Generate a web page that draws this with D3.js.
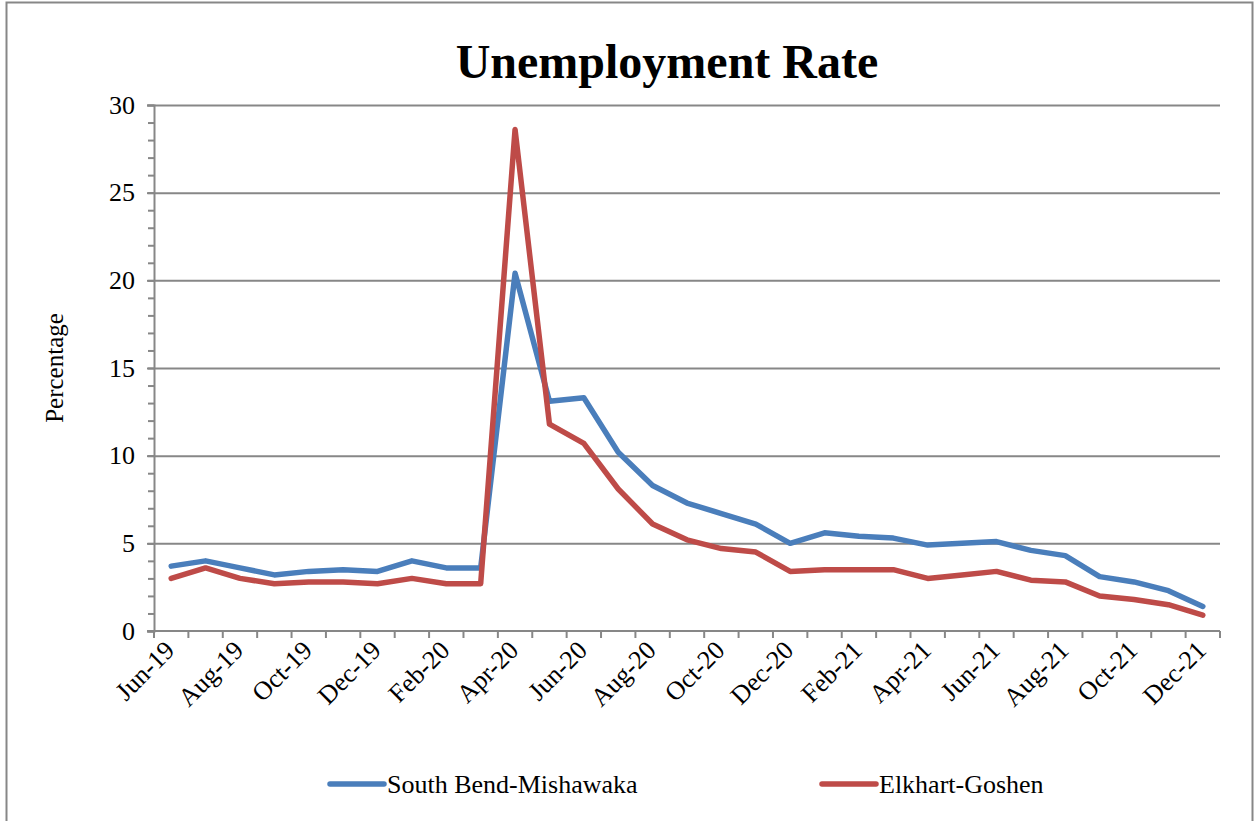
<!DOCTYPE html>
<html>
<head>
<meta charset="utf-8">
<script src="https://cdn.jsdelivr.net/npm/d3@7"></script>
<style>
  body { margin: 0; background: #fff; }
  text { font-family: "Liberation Serif", "Times New Roman", serif; fill: #000; }
</style>
</head>
<body>
<script>
var months = ["Jun-19","Jul-19","Aug-19","Sep-19","Oct-19","Nov-19","Dec-19","Jan-20","Feb-20","Mar-20",
              "Apr-20","May-20","Jun-20","Jul-20","Aug-20","Sep-20","Oct-20","Nov-20","Dec-20","Jan-21",
              "Feb-21","Mar-21","Apr-21","May-21","Jun-21","Jul-21","Aug-21","Sep-21","Oct-21","Nov-21","Dec-21"];

var southBend = [3.7, 4.0, 3.6, 3.2, 3.4, 3.5, 3.4, 4.0, 3.6, 3.6,
                 20.4, 13.1, 13.3, 10.2, 8.3, 7.3, 6.7, 6.1, 5.0, 5.6,
                 5.4, 5.3, 4.9, 5.0, 5.1, 4.6, 4.3, 3.1, 2.8, 2.3, 1.4];

var elkhart = [3.0, 3.6, 3.0, 2.7, 2.8, 2.8, 2.7, 3.0, 2.7, 2.7,
               28.6, 11.8, 10.7, 8.1, 6.1, 5.2, 4.7, 4.5, 3.4, 3.5,
               3.5, 3.5, 3.0, 3.2, 3.4, 2.9, 2.8, 2.0, 1.8, 1.5, 0.9];

var yTicks = [0, 5, 10, 15, 20, 25, 30];
var seriesNames = ["South Bend-Mishawaka", "Elkhart-Goshen"];
var seriesColors = ["#4a7ebb", "#be4b48"];

var width = 1254, height = 821;
var plot = {left: 154, right: 1220, top: 105, bottom: 631};
var gray = "#878787";

var svg = d3.select("body").append("svg")
    .attr("width", width)
    .attr("height", height);

// outer frame (bottom edge runs off the page)
svg.append("rect")
    .attr("x", 6.5).attr("y", 2.5)
    .attr("width", 1246).attr("height", 900)
    .attr("fill", "none")
    .attr("stroke", gray)
    .attr("stroke-width", 2);

var x = d3.scaleBand().domain(months).range([plot.left, plot.right]).padding(0);
var y = d3.scaleLinear().domain([0, 30]).range([plot.bottom, plot.top]);

// gridlines
svg.append("g")
    .attr("transform", "translate(" + plot.left + ",0)")
    .call(d3.axisLeft(y).tickValues(yTicks.slice(1)).tickSize(-(plot.right - plot.left)).tickFormat(""))
    .call(function(g){ g.select(".domain").remove(); })
    .selectAll("line").attr("stroke", gray).attr("stroke-width", 2);

// minor y ticks
svg.append("g")
    .attr("transform", "translate(" + plot.left + ",0)")
    .call(d3.axisLeft(y).tickValues(d3.range(0, 31)).tickSize(6).tickFormat(""))
    .call(function(g){ g.select(".domain").remove(); })
    .selectAll("line").attr("stroke", gray).attr("stroke-width", 2);

// y axis with labels
var yAxis = svg.append("g")
    .attr("transform", "translate(" + plot.left + ",0)")
    .call(d3.axisLeft(y).tickValues(yTicks).tickSize(7).tickPadding(12));
yAxis.select(".domain").attr("stroke", gray).attr("stroke-width", 2);
yAxis.selectAll("line").attr("stroke", gray).attr("stroke-width", 2);
yAxis.selectAll("text").style("font-size", "26px").style("font-family", "Liberation Serif");

// x axis: line plus ticks on category boundaries
var bounds = months.map(function(m){ return x(m); }).concat([plot.right]);
svg.append("line")
    .attr("x1", plot.left - 7).attr("x2", plot.right)
    .attr("y1", plot.bottom).attr("y2", plot.bottom)
    .attr("stroke", gray).attr("stroke-width", 2);
svg.append("g").selectAll("line")
    .data(bounds)
    .join("line")
    .attr("x1", function(d){ return d; }).attr("x2", function(d){ return d; })
    .attr("y1", plot.bottom).attr("y2", plot.bottom + 7)
    .attr("stroke", gray).attr("stroke-width", 2);

svg.append("g").selectAll("text")
    .data(months.filter(function(d, i){ return i % 2 === 0; }))
    .join("text")
    .attr("transform", function(d){
        return "translate(" + (x(d) + x.bandwidth()/2 - 8) + "," + (plot.bottom + 8) + ") rotate(-45)";
    })
    .attr("text-anchor", "end")
    .attr("dy", "0.7em")
    .style("font-size", "26px")
    .text(function(d){ return d; });

// lines
var line = d3.line()
    .x(function(d, i){ return x(months[i]) + x.bandwidth()/2; })
    .y(function(d){ return y(d); });

[southBend, elkhart].forEach(function(s, k){
    svg.append("path")
        .datum(s)
        .attr("d", line)
        .attr("fill", "none")
        .attr("stroke", seriesColors[k])
        .attr("stroke-width", 5.5)
        .attr("stroke-linejoin", "round")
        .attr("stroke-linecap", "round");
});

// title
svg.append("text")
    .attr("x", 667).attr("y", 78)
    .attr("text-anchor", "middle")
    .style("font-size", "48px")
    .style("font-weight", "bold")
    .text("Unemployment Rate");

// y label
svg.append("text")
    .attr("transform", "translate(63,368) rotate(-90)")
    .attr("text-anchor", "middle")
    .style("font-size", "25px")
    .text("Percentage");

// legend
var legendX = [330, 822];
seriesNames.forEach(function(name, k){
    var g = svg.append("g").attr("transform", "translate(" + legendX[k] + ",784)");
    g.append("line")
        .attr("x1", 0).attr("x2", 54)
        .attr("stroke", seriesColors[k])
        .attr("stroke-width", 5.5)
        .attr("stroke-linecap", "round");
    g.append("text")
        .attr("x", 57).attr("y", 9)
        .style("font-size", "26px")
        .text(name);
});
</script>
</body>
</html>
